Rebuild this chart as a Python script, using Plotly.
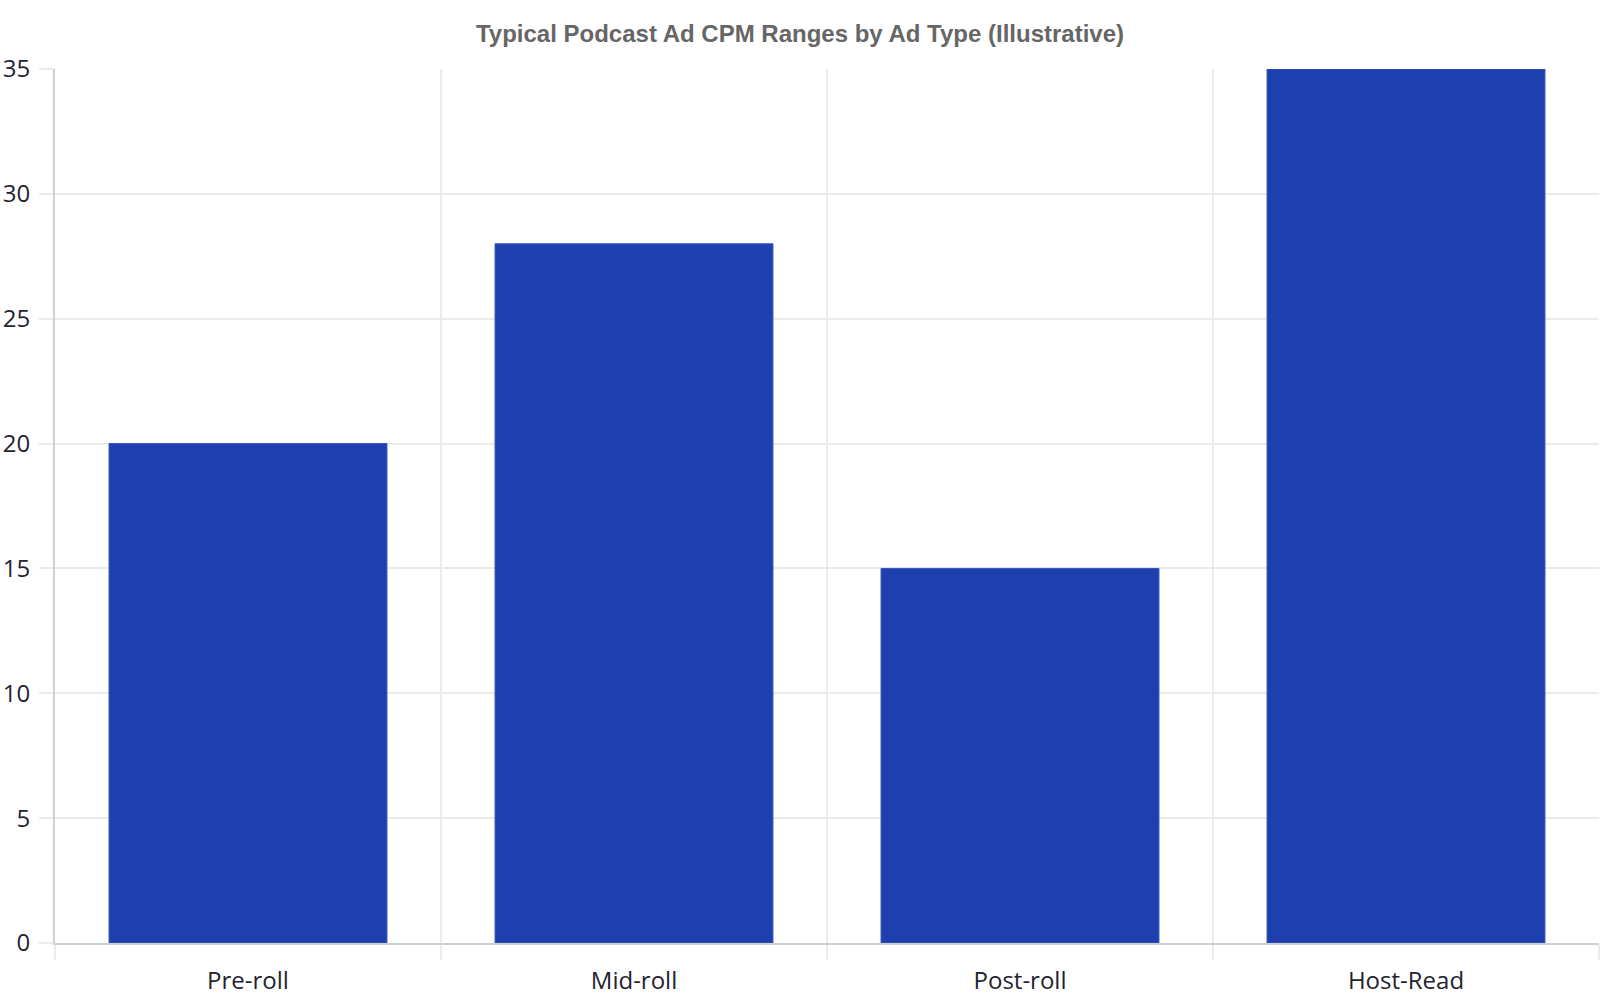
import plotly.graph_objects as go

ad_types = ["Pre-roll", "Mid-roll", "Post-roll", "Host-Read"]
cpm_values = [20, 28, 15, 35]

bar_color = "#1e40af"
bar_edge = "#3553c0"
grid_color = "#ebebeb"
axis_color = "#d0d0d0"
font_color = "#1f2430"
title_color = "#666666"

fig = go.Figure()
fig.add_trace(go.Bar(
    x=ad_types,
    y=cpm_values,
    marker=dict(color=bar_color,
                line=dict(color=bar_edge, width=1)),
))

fig.update_layout(
    width=1600,
    height=1000,
    title=dict(text="<b>Typical Podcast Ad CPM Ranges by Ad Type (Illustrative)</b>",
               x=0.5, xanchor="center",
               y=0.966, yanchor="middle",
               font=dict(family="Liberation Sans Narrow, Arial Narrow, Liberation Sans",
                         size=24, color=title_color)),
    font=dict(family="Open Sans", size=24, color=font_color),
    paper_bgcolor="white",
    plot_bgcolor="white",
    bargap=0.28,
    showlegend=False,
    margin=dict(l=55, r=1, t=69, b=57, autoexpand=False),
)

fig.update_xaxes(
    showgrid=True, gridcolor=grid_color, gridwidth=1.5,
    tickson="boundaries", ticks="outside", ticklen=15, tickcolor=grid_color,
    tickwidth=1.5, ticklabelstandoff=15,
    showline=True, linecolor=axis_color, linewidth=2,
)
fig.update_yaxes(
    range=[0, 35], dtick=5,
    showgrid=True, gridcolor=grid_color, gridwidth=1.5,
    ticks="outside", ticklen=14, tickcolor=grid_color, tickwidth=1.5,
    ticklabelstandoff=4,
    showline=True, linecolor=axis_color, linewidth=2,
    zeroline=False,
)

# page without the default body margin, so the figure sits at the window's corner
fig.write_html("out.html",
               config=dict(displayModeBar=False),
               post_script="document.body.style.margin='0';")
